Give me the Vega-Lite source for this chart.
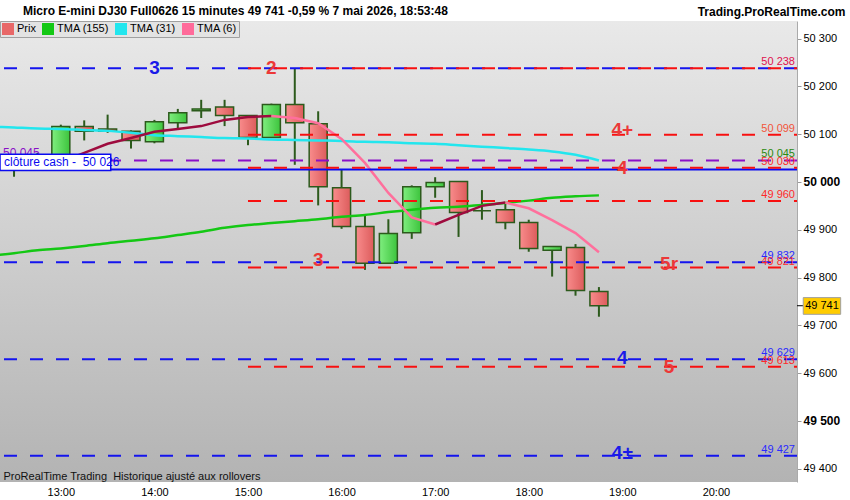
{
  "$schema": "https://vega.github.io/schema/vega-lite/v6.json",
  "width": 797,
  "height": 461,
  "autosize": {"type": "none"},
  "padding": {"left": 0, "top": 21, "right": 53, "bottom": 18},
  "background": "#ffffff",
  "config": {"font": "Liberation Sans", "view": {"stroke": null}},
  "title": {
    "text": "Micro E-mini DJ30 Full0626 15 minutes 49 741 -0,59 % 7 mai 2026, 18:53:48",
    "anchor": "start", "frame": "group", "offset": 0, "dx": 23, "dy": 13,
    "fontSize": 12, "fontWeight": "bold", "font": "Liberation Sans", "color": "#000000"
  },
  "resolve": {"scale": {"color": "independent"}},
  "datasets": {
    "bougies": [
      {"t": "2026-05-07T12:30:00", "o": 50045, "h": 50050, "l": 50011, "c": 50030},
      {"t": "2026-05-07T12:45:00", "o": 50030, "h": 50061, "l": 50025, "c": 50045},
      {"t": "2026-05-07T13:00:00", "o": 50040, "h": 50120, "l": 50035, "c": 50116},
      {"t": "2026-05-07T13:15:00", "o": 50116, "h": 50129, "l": 50087, "c": 50106},
      {"t": "2026-05-07T13:30:00", "o": 50111, "h": 50141, "l": 50103, "c": 50106},
      {"t": "2026-05-07T13:45:00", "o": 50106, "h": 50108, "l": 50070, "c": 50087},
      {"t": "2026-05-07T14:00:00", "o": 50084, "h": 50130, "l": 50081, "c": 50126},
      {"t": "2026-05-07T14:15:00", "o": 50124, "h": 50153, "l": 50109, "c": 50145},
      {"t": "2026-05-07T14:30:00", "o": 50149, "h": 50172, "l": 50134, "c": 50153},
      {"t": "2026-05-07T14:45:00", "o": 50157, "h": 50172, "l": 50117, "c": 50139},
      {"t": "2026-05-07T15:00:00", "o": 50139, "h": 50139, "l": 50077, "c": 50093},
      {"t": "2026-05-07T15:15:00", "o": 50093, "h": 50164, "l": 50092, "c": 50162},
      {"t": "2026-05-07T15:30:00", "o": 50162, "h": 50238, "l": 50036, "c": 50124},
      {"t": "2026-05-07T15:45:00", "o": 50122, "h": 50148, "l": 49951, "c": 49990},
      {"t": "2026-05-07T16:00:00", "o": 49988, "h": 50026, "l": 49902, "c": 49907},
      {"t": "2026-05-07T16:15:00", "o": 49907, "h": 49933, "l": 49816, "c": 49830},
      {"t": "2026-05-07T16:30:00", "o": 49830, "h": 49922, "l": 49830, "c": 49892},
      {"t": "2026-05-07T16:45:00", "o": 49894, "h": 49993, "l": 49881, "c": 49990},
      {"t": "2026-05-07T17:00:00", "o": 49990, "h": 50010, "l": 49967, "c": 49999},
      {"t": "2026-05-07T17:15:00", "o": 50001, "h": 50001, "l": 49885, "c": 49936},
      {"t": "2026-05-07T17:30:00", "o": 49940, "h": 49983, "l": 49921, "c": 49940},
      {"t": "2026-05-07T17:45:00", "o": 49942, "h": 49958, "l": 49901, "c": 49915},
      {"t": "2026-05-07T18:00:00", "o": 49915, "h": 49921, "l": 49854, "c": 49861},
      {"t": "2026-05-07T18:15:00", "o": 49857, "h": 49865, "l": 49802, "c": 49865},
      {"t": "2026-05-07T18:30:00", "o": 49863, "h": 49870, "l": 49762, "c": 49773},
      {"t": "2026-05-07T18:45:00", "o": 49771, "h": 49780, "l": 49718, "c": 49741}
    ],
    "tma": [
      {"t": "2026-05-07T12:15:00", "serie": "TMA (155)", "v": 49846},
      {"t": "2026-05-07T12:30:00", "serie": "TMA (155)", "v": 49851},
      {"t": "2026-05-07T12:45:00", "serie": "TMA (155)", "v": 49857},
      {"t": "2026-05-07T13:00:00", "serie": "TMA (155)", "v": 49861},
      {"t": "2026-05-07T13:15:00", "serie": "TMA (155)", "v": 49866},
      {"t": "2026-05-07T13:30:00", "serie": "TMA (155)", "v": 49872},
      {"t": "2026-05-07T13:45:00", "serie": "TMA (155)", "v": 49877},
      {"t": "2026-05-07T14:00:00", "serie": "TMA (155)", "v": 49882},
      {"t": "2026-05-07T14:15:00", "serie": "TMA (155)", "v": 49889},
      {"t": "2026-05-07T14:30:00", "serie": "TMA (155)", "v": 49896},
      {"t": "2026-05-07T14:45:00", "serie": "TMA (155)", "v": 49904},
      {"t": "2026-05-07T15:00:00", "serie": "TMA (155)", "v": 49910},
      {"t": "2026-05-07T15:15:00", "serie": "TMA (155)", "v": 49914},
      {"t": "2026-05-07T15:30:00", "serie": "TMA (155)", "v": 49918},
      {"t": "2026-05-07T15:45:00", "serie": "TMA (155)", "v": 49922},
      {"t": "2026-05-07T16:00:00", "serie": "TMA (155)", "v": 49927},
      {"t": "2026-05-07T16:15:00", "serie": "TMA (155)", "v": 49931},
      {"t": "2026-05-07T16:30:00", "serie": "TMA (155)", "v": 49937},
      {"t": "2026-05-07T16:45:00", "serie": "TMA (155)", "v": 49942},
      {"t": "2026-05-07T17:00:00", "serie": "TMA (155)", "v": 49946},
      {"t": "2026-05-07T17:15:00", "serie": "TMA (155)", "v": 49948},
      {"t": "2026-05-07T17:30:00", "serie": "TMA (155)", "v": 49952},
      {"t": "2026-05-07T17:45:00", "serie": "TMA (155)", "v": 49956},
      {"t": "2026-05-07T18:00:00", "serie": "TMA (155)", "v": 49961},
      {"t": "2026-05-07T18:15:00", "serie": "TMA (155)", "v": 49967},
      {"t": "2026-05-07T18:30:00", "serie": "TMA (155)", "v": 49970},
      {"t": "2026-05-07T18:45:00", "serie": "TMA (155)", "v": 49972},
      {"t": "2026-05-07T12:15:00", "serie": "TMA (31)", "v": 50116},
      {"t": "2026-05-07T12:30:00", "serie": "TMA (31)", "v": 50114},
      {"t": "2026-05-07T12:45:00", "serie": "TMA (31)", "v": 50112},
      {"t": "2026-05-07T13:00:00", "serie": "TMA (31)", "v": 50111},
      {"t": "2026-05-07T13:15:00", "serie": "TMA (31)", "v": 50109},
      {"t": "2026-05-07T13:30:00", "serie": "TMA (31)", "v": 50107},
      {"t": "2026-05-07T13:45:00", "serie": "TMA (31)", "v": 50103},
      {"t": "2026-05-07T14:00:00", "serie": "TMA (31)", "v": 50098},
      {"t": "2026-05-07T14:15:00", "serie": "TMA (31)", "v": 50096},
      {"t": "2026-05-07T14:30:00", "serie": "TMA (31)", "v": 50094},
      {"t": "2026-05-07T14:45:00", "serie": "TMA (31)", "v": 50092},
      {"t": "2026-05-07T15:00:00", "serie": "TMA (31)", "v": 50091},
      {"t": "2026-05-07T15:15:00", "serie": "TMA (31)", "v": 50089},
      {"t": "2026-05-07T15:30:00", "serie": "TMA (31)", "v": 50088},
      {"t": "2026-05-07T15:45:00", "serie": "TMA (31)", "v": 50087},
      {"t": "2026-05-07T16:00:00", "serie": "TMA (31)", "v": 50086},
      {"t": "2026-05-07T16:15:00", "serie": "TMA (31)", "v": 50084},
      {"t": "2026-05-07T16:30:00", "serie": "TMA (31)", "v": 50083},
      {"t": "2026-05-07T16:45:00", "serie": "TMA (31)", "v": 50081},
      {"t": "2026-05-07T17:00:00", "serie": "TMA (31)", "v": 50080},
      {"t": "2026-05-07T17:15:00", "serie": "TMA (31)", "v": 50077},
      {"t": "2026-05-07T17:30:00", "serie": "TMA (31)", "v": 50074},
      {"t": "2026-05-07T17:45:00", "serie": "TMA (31)", "v": 50071},
      {"t": "2026-05-07T18:00:00", "serie": "TMA (31)", "v": 50068},
      {"t": "2026-05-07T18:15:00", "serie": "TMA (31)", "v": 50064},
      {"t": "2026-05-07T18:30:00", "serie": "TMA (31)", "v": 50057},
      {"t": "2026-05-07T18:45:00", "serie": "TMA (31)", "v": 50045}
    ],
    "tma6": [
      {"t": "2026-05-07T13:00:00", "v": 50042, "seg": 1, "sens": "hausse"},
      {"t": "2026-05-07T13:15:00", "v": 50061, "seg": 1, "sens": "hausse"},
      {"t": "2026-05-07T13:30:00", "v": 50080, "seg": 1, "sens": "hausse"},
      {"t": "2026-05-07T13:45:00", "v": 50092, "seg": 1, "sens": "hausse"},
      {"t": "2026-05-07T14:00:00", "v": 50105, "seg": 1, "sens": "hausse"},
      {"t": "2026-05-07T14:15:00", "v": 50111, "seg": 1, "sens": "hausse"},
      {"t": "2026-05-07T14:30:00", "v": 50117, "seg": 1, "sens": "hausse"},
      {"t": "2026-05-07T14:45:00", "v": 50130, "seg": 1, "sens": "hausse"},
      {"t": "2026-05-07T15:00:00", "v": 50136, "seg": 1, "sens": "hausse"},
      {"t": "2026-05-07T15:15:00", "v": 50138, "seg": 1, "sens": "hausse"},
      {"t": "2026-05-07T15:15:00", "v": 50138, "seg": 2, "sens": "baisse"},
      {"t": "2026-05-07T15:30:00", "v": 50134, "seg": 2, "sens": "baisse"},
      {"t": "2026-05-07T15:45:00", "v": 50123, "seg": 2, "sens": "baisse"},
      {"t": "2026-05-07T16:00:00", "v": 50090, "seg": 2, "sens": "baisse"},
      {"t": "2026-05-07T16:15:00", "v": 50040, "seg": 2, "sens": "baisse"},
      {"t": "2026-05-07T16:30:00", "v": 49977, "seg": 2, "sens": "baisse"},
      {"t": "2026-05-07T16:45:00", "v": 49926, "seg": 2, "sens": "baisse"},
      {"t": "2026-05-07T17:00:00", "v": 49911, "seg": 2, "sens": "baisse"},
      {"t": "2026-05-07T17:00:00", "v": 49911, "seg": 3, "sens": "hausse"},
      {"t": "2026-05-07T17:15:00", "v": 49931, "seg": 3, "sens": "hausse"},
      {"t": "2026-05-07T17:30:00", "v": 49950, "seg": 3, "sens": "hausse"},
      {"t": "2026-05-07T17:45:00", "v": 49957, "seg": 3, "sens": "hausse"},
      {"t": "2026-05-07T17:45:00", "v": 49957, "seg": 4, "sens": "baisse"},
      {"t": "2026-05-07T18:00:00", "v": 49945, "seg": 4, "sens": "baisse"},
      {"t": "2026-05-07T18:15:00", "v": 49920, "seg": 4, "sens": "baisse"},
      {"t": "2026-05-07T18:30:00", "v": 49893, "seg": 4, "sens": "baisse"},
      {"t": "2026-05-07T18:45:00", "v": 49853, "seg": 4, "sens": "baisse"}
    ],
    "niveaux": [
      {"p": 50238, "trace": "bleu tirets"},
      {"p": 50045, "trace": "violet tirets"},
      {"p": 50026, "trace": "bleu plein"},
      {"p": 49832, "trace": "bleu tirets"},
      {"p": 49629, "trace": "bleu tirets"},
      {"p": 49427, "trace": "bleu tirets"},
      {"p": 50238, "trace": "rouge tirets", "de": "2026-05-07T15:00:00", "a": "2026-05-07T20:52:00"},
      {"p": 50099, "trace": "rouge tirets", "de": "2026-05-07T15:00:00", "a": "2026-05-07T20:52:00"},
      {"p": 50030, "trace": "rouge tirets", "de": "2026-05-07T15:00:00", "a": "2026-05-07T20:52:00"},
      {"p": 49960, "trace": "rouge tirets", "de": "2026-05-07T15:00:00", "a": "2026-05-07T20:52:00"},
      {"p": 49821, "trace": "rouge tirets", "de": "2026-05-07T15:00:00", "a": "2026-05-07T20:52:00"},
      {"p": 49613, "trace": "rouge tirets", "de": "2026-05-07T15:00:00", "a": "2026-05-07T20:52:00"}
    ],
    "reperes": [
      {"t": "2026-05-07T14:00:00", "p": 50238, "txt": "3", "camp": "bleu"},
      {"t": "2026-05-07T15:15:00", "p": 50238, "txt": "2", "camp": "rouge"},
      {"t": "2026-05-07T19:00:00", "p": 50108, "txt": "4+", "camp": "rouge"},
      {"t": "2026-05-07T19:00:00", "p": 50030, "txt": "4", "camp": "rouge"},
      {"t": "2026-05-07T15:45:00", "p": 49837, "txt": "3", "camp": "rouge"},
      {"t": "2026-05-07T19:30:00", "p": 49829, "txt": "5r", "camp": "rouge"},
      {"t": "2026-05-07T19:00:00", "p": 49632, "txt": "4", "camp": "bleu"},
      {"t": "2026-05-07T19:30:00", "p": 49612, "txt": "5", "camp": "rouge"},
      {"t": "2026-05-07T19:00:00", "p": 49433, "txt": "4±", "camp": "bleu"}
    ],
    "valeurs": [
      {"p": 50238, "txt": "50 238", "camp": "double"},
      {"p": 50099, "txt": "50 099", "camp": "orange"},
      {"p": 50045, "txt": "50 045", "camp": "moyenne"},
      {"p": 50030, "txt": "50 030", "camp": "rouge"},
      {"p": 49960, "txt": "49 960", "camp": "rouge"},
      {"p": 49832, "txt": "49 832", "camp": "bleu"},
      {"p": 49821, "txt": "49 821", "camp": "rouge"},
      {"p": 49629, "txt": "49 629", "camp": "bleu"},
      {"p": 49613, "txt": "49 613", "camp": "rouge"},
      {"p": 49427, "txt": "49 427", "camp": "bleu"}
    ],
    "legende": [
      {"serie": "Prix", "t": "2026-05-07T11:00:00", "p": 50000},
      {"serie": "TMA (155)", "t": "2026-05-07T11:00:00", "p": 50000},
      {"serie": "TMA (31)", "t": "2026-05-07T11:00:00", "p": 50000},
      {"serie": "TMA (6)", "t": "2026-05-07T11:00:00", "p": 50000}
    ]
  },
  "layer": [
    {
      "data": {"values": [{}]},
      "mark": {"type": "rect", "fill": {"gradient": "linear", "x1": 0, "y1": 0, "x2": 0, "y2": 1, "stops": [{"offset": 0, "color": "#e9e9e9"}, {"offset": 1, "color": "#b3b3b3"}]}},
      "encoding": {}
    },
    {
      "data": {"name": "bougies"},
      "mark": {"type": "rule", "color": "#2c5a1c", "strokeWidth": 2},
      "encoding": {
        "x": {"field": "t", "type": "temporal",
          "scale": {"domain": [{"year": 2026, "month": 5, "date": 7, "hours": 12, "minutes": 21}, {"year": 2026, "month": 5, "date": 7, "hours": 20, "minutes": 52}], "padding": 0},
          "axis": {"title": "ProRealTime Trading\u00a0 Historique ajusté aux rollovers", "titleX": 3, "titleY": -6, "titleAlign": "left", "titleAnchor": "start", "titleBaseline": "middle", "titleFontSize": 11, "titleFontWeight": "normal", "titleColor": "#111111", "zindex": 1,
            "format": "%H:%M",
            "values": [
              {"year": 2026, "month": 5, "date": 7, "hours": 13},
              {"year": 2026, "month": 5, "date": 7, "hours": 14},
              {"year": 2026, "month": 5, "date": 7, "hours": 15},
              {"year": 2026, "month": 5, "date": 7, "hours": 16},
              {"year": 2026, "month": 5, "date": 7, "hours": 17},
              {"year": 2026, "month": 5, "date": 7, "hours": 18},
              {"year": 2026, "month": 5, "date": 7, "hours": 19},
              {"year": 2026, "month": 5, "date": 7, "hours": 20}
            ],
            "labelFontSize": 11, "labelColor": "#000000", "labelPadding": 4, "domain": false, "ticks": false, "grid": false, "labelFlush": false, "labelOverlap": false}},
        "y": {"field": "l", "type": "quantitative",
          "scale": {"domain": [49372, 50337], "nice": false, "zero": false},
          "axis": {"orient": "right", "values": [49400, 49500, 49600, 49700, 49800, 49900, 50000, 50100, 50200, 50300],
            "labelExpr": "replace(format(datum.value, ',d'), ',', ' ')",
            "labelFontSize": {"condition": {"test": "datum.value % 500 === 0", "value": 12}, "value": 11},
            "labelFontWeight": {"condition": {"test": "datum.value % 500 === 0", "value": "bold"}, "value": "normal"},
            "labelColor": "#000000", "tickSize": 4, "tickColor": "#999999", "domainColor": "#aaaaaa", "labelPadding": 2, "grid": false,
            "title": "Trading.ProRealTime.com", "titleX": 48, "titleY": -10, "titleAngle": 0, "titleAlign": "right", "titleBaseline": "middle", "titleFontSize": 12, "titleFontWeight": "bold", "titleColor": "#000000"}},
        "y2": {"field": "h"}
      }
    },
    {
      "data": {"name": "legende"},
      "mark": {"type": "point", "filled": true, "shape": "square", "clip": true},
      "encoding": {
        "x": {"field": "t", "type": "temporal"},
        "y": {"field": "p", "type": "quantitative"},
        "color": {"field": "serie", "type": "nominal",
          "scale": {"domain": ["Prix", "TMA (155)", "TMA (31)", "TMA (6)"], "range": ["#e86868", "#14c814", "#22e6ee", "#ff6b9a"]},
          "legend": {"title": null, "orient": "top-left", "direction": "horizontal", "offset": 0, "padding": 2, "fillColor": "#e3e3e3", "strokeColor": "#a0a0a0",
            "symbolType": "square", "symbolSize": 144, "symbolStrokeWidth": 0, "symbolOpacity": 1, "labelFontSize": 11, "labelColor": "#000000", "labelOffset": 3, "columnPadding": 6}}
      }
    },
    {
      "data": {"name": "bougies"},
      "transform": [{"filter": "datum.c >= datum.o"}],
      "mark": {"type": "bar", "width": 18, "stroke": "#2c5a1c", "strokeWidth": 1.5,
        "fill": {"gradient": "linear", "x1": 0, "y1": 0, "x2": 1, "y2": 0, "stops": [{"offset": 0, "color": "#7fee7f"}, {"offset": 1, "color": "#3dc43d"}]}},
      "encoding": {
        "x": {"field": "t", "type": "temporal"},
        "y": {"field": "o", "type": "quantitative"},
        "y2": {"field": "c"}
      }
    },
    {
      "data": {"name": "bougies"},
      "transform": [{"filter": "datum.c < datum.o"}],
      "mark": {"type": "bar", "width": 18, "stroke": "#2c5a1c", "strokeWidth": 1.5,
        "fill": {"gradient": "linear", "x1": 0, "y1": 0, "x2": 1, "y2": 0, "stops": [{"offset": 0, "color": "#f98c8c"}, {"offset": 1, "color": "#dc5c5c"}]}},
      "encoding": {
        "x": {"field": "t", "type": "temporal"},
        "y": {"field": "o", "type": "quantitative"},
        "y2": {"field": "c"}
      }
    },
    {
      "data": {"name": "tma"},
      "mark": {"type": "line", "strokeWidth": 2.5, "clip": true, "interpolate": "monotone"},
      "encoding": {
        "x": {"field": "t", "type": "temporal"},
        "y": {"field": "v", "type": "quantitative"},
        "color": {"field": "serie", "type": "nominal", "scale": {"domain": ["TMA (155)", "TMA (31)"], "range": ["#14c814", "#22e6ee"]}, "legend": null}
      }
    },
    {
      "data": {"name": "tma6"},
      "mark": {"type": "line", "strokeWidth": 2.5},
      "encoding": {
        "x": {"field": "t", "type": "temporal"},
        "y": {"field": "v", "type": "quantitative"},
        "color": {"field": "sens", "type": "nominal", "scale": {"domain": ["hausse", "baisse"], "range": ["#9e0b3e", "#ff6f9c"]}, "legend": null},
        "detail": {"field": "seg", "type": "nominal"}
      }
    },
    {
      "data": {"name": "niveaux"},
      "transform": [{"filter": "datum.trace === 'bleu tirets'"}],
      "mark": {"type": "rule", "color": "#1414ee", "strokeWidth": 2, "strokeDash": [13, 13]},
      "encoding": {"y": {"field": "p", "type": "quantitative"}}
    },
    {
      "data": {"name": "niveaux"},
      "transform": [{"filter": "datum.trace === 'violet tirets'"}],
      "mark": {"type": "rule", "color": "#8a10c8", "strokeWidth": 2, "strokeDash": [13, 13]},
      "encoding": {"y": {"field": "p", "type": "quantitative"}}
    },
    {
      "data": {"name": "niveaux"},
      "transform": [{"filter": "datum.trace === 'bleu plein'"}],
      "mark": {"type": "rule", "color": "#0a0af0", "strokeWidth": 2},
      "encoding": {"y": {"field": "p", "type": "quantitative"}}
    },
    {
      "data": {"name": "niveaux"},
      "transform": [{"filter": "datum.trace === 'rouge tirets'"}],
      "mark": {"type": "rule", "color": "#f81010", "strokeWidth": 2, "strokeDash": [13, 13]},
      "encoding": {
        "x": {"field": "de", "type": "temporal"},
        "x2": {"field": "a"},
        "y": {"field": "p", "type": "quantitative"}
      }
    },
    {
      "data": {"values": [{"txt": "50 045", "p": 50045}]},
      "mark": {"type": "text", "align": "left", "baseline": "bottom", "dx": 3, "dy": 0, "fontSize": 12, "color": "#8a10c8"},
      "encoding": {
        "x": {"datum": {"year": 2026, "month": 5, "date": 7, "hours": 12, "minutes": 21}, "type": "temporal"},
        "y": {"field": "p", "type": "quantitative"},
        "text": {"field": "txt"}
      }
    },
    {
      "data": {"values": [{}]},
      "mark": {"type": "rect", "fill": "#ffffff", "stroke": "#0a0af0", "strokeWidth": 1.5},
      "encoding": {
        "x": {"datum": {"year": 2026, "month": 5, "date": 7, "hours": 12, "minutes": 21}, "type": "temporal"},
        "x2": {"datum": {"year": 2026, "month": 5, "date": 7, "hours": 13, "minutes": 32}},
        "y": {"datum": 50024, "type": "quantitative"},
        "y2": {"datum": 50058}
      }
    },
    {
      "data": {"values": [{"txt": "clôture cash -\u00a0 50 026", "p": 50026}]},
      "mark": {"type": "text", "align": "left", "baseline": "bottom", "dx": 4, "dy": -1, "fontSize": 12, "color": "#0a0af0"},
      "encoding": {
        "x": {"datum": {"year": 2026, "month": 5, "date": 7, "hours": 12, "minutes": 21}, "type": "temporal"},
        "y": {"field": "p", "type": "quantitative"},
        "text": {"field": "txt"}
      }
    },
    {
      "data": {"name": "reperes"},
      "mark": {"type": "text", "align": "center", "baseline": "middle", "fontSize": 19, "fontWeight": "bold"},
      "encoding": {
        "x": {"field": "t", "type": "temporal"},
        "y": {"field": "p", "type": "quantitative"},
        "text": {"field": "txt"},
        "color": {"field": "camp", "type": "nominal", "scale": {"domain": ["bleu", "rouge"], "range": ["#1a1ae8", "#ec3838"]}, "legend": null}
      }
    },
    {
      "data": {"name": "valeurs"},
      "mark": {"type": "text", "align": "right", "baseline": "bottom", "dx": -2, "dy": -1, "fontSize": 11},
      "encoding": {
        "x": {"datum": {"year": 2026, "month": 5, "date": 7, "hours": 20, "minutes": 52}, "type": "temporal"},
        "y": {"field": "p", "type": "quantitative"},
        "text": {"field": "txt"},
        "color": {"field": "camp", "type": "nominal", "scale": {"domain": ["double", "orange", "moyenne", "rouge", "bleu"], "range": ["#e0104f", "#f2553a", "#2a8a10", "#ff2a2a", "#2a2aff"]}, "legend": null}
      }
    },
    {
      "data": {"values": [{}]},
      "mark": {"type": "rule", "color": "#000000", "strokeWidth": 1},
      "encoding": {
        "x": {"datum": {"year": 2026, "month": 5, "date": 7, "hours": 20, "minutes": 52}, "type": "temporal"},
        "x2": {"datum": {"year": 2026, "month": 5, "date": 7, "hours": 20, "minutes": 56}},
        "y": {"datum": 49741, "type": "quantitative"}
      }
    },
    {
      "data": {"values": [{}]},
      "mark": {"type": "rect", "fill": "#ffcc00", "stroke": "#a0a0a0", "strokeWidth": 1},
      "encoding": {
        "x": {"datum": {"year": 2026, "month": 5, "date": 7, "hours": 20, "minutes": 56}, "type": "temporal"},
        "x2": {"datum": {"year": 2026, "month": 5, "date": 7, "hours": 21, "minutes": 20}},
        "y": {"datum": 49723, "type": "quantitative"},
        "y2": {"datum": 49758}
      }
    },
    {
      "data": {"values": [{"txt": "49 741", "p": 49741}]},
      "mark": {"type": "text", "align": "center", "baseline": "middle", "fontSize": 11, "color": "#000000"},
      "encoding": {
        "x": {"datum": {"year": 2026, "month": 5, "date": 7, "hours": 21, "minutes": 8}, "type": "temporal"},
        "y": {"field": "p", "type": "quantitative"},
        "text": {"field": "txt"}
      }
    }
  ]
}
